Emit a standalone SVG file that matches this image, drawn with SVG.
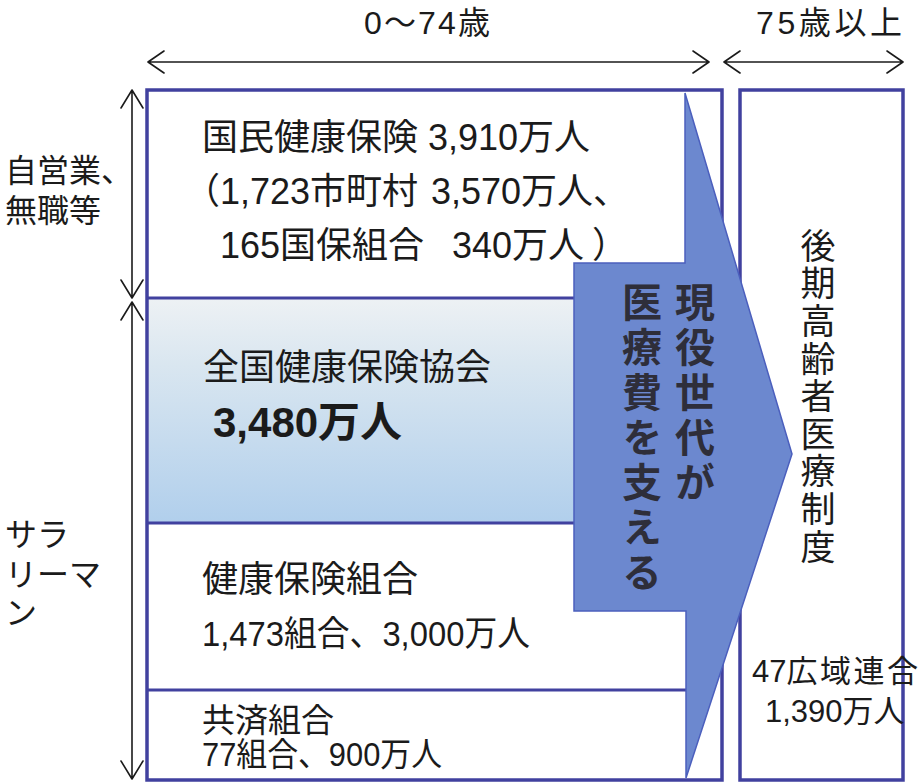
<svg xmlns="http://www.w3.org/2000/svg" width="919" height="784" viewBox="0 0 919 784">
<defs>
  <linearGradient id="kyokaiGrad" x1="0" y1="0" x2="0" y2="1">
    <stop offset="0" stop-color="#edf1f4"/>
    <stop offset="0.3" stop-color="#d9e6f0"/>
    <stop offset="1" stop-color="#b1cfec"/>
  </linearGradient>
</defs>
<style>
  .t { font-family: "Liberation Sans", "Noto Sans CJK JP", sans-serif; fill: #1b1b1b; }
  .box { fill: none; stroke: #41419f; stroke-width: 3.5; }
  .div { stroke: #41419f; stroke-width: 3; }
  .dim { fill: none; stroke: #1b1b1b; stroke-width: 1.6; stroke-linecap: round; stroke-linejoin: round; }
  .arrowtxt { font-family: "Noto Sans CJK JP", sans-serif; font-weight: 700; font-size: 40px; fill: #2e2e3a; writing-mode: vertical-rl; letter-spacing: 5px; }
  .vt { font-family: "Noto Sans CJK JP", sans-serif; font-size: 35px; fill: #1b1b1b; writing-mode: vertical-rl; letter-spacing: 2.6px; }
</style>
<rect x="0" y="0" width="919" height="784" fill="#ffffff"/>

<g id="age-labels">
  <text class="t" x="364" y="34" font-size="32" textLength="126" lengthAdjust="spacing">0～74歳</text>
  <text class="t" x="756" y="34" font-size="32" textLength="146" lengthAdjust="spacing">75歳以上</text>
</g>

<g id="group-labels">
  <text class="t" x="5" y="182" font-size="32">自営業、</text>
  <text class="t" x="5" y="222" font-size="32">無職等</text>
  <text class="t" x="5" y="546" font-size="32">サラ</text>
  <text class="t" x="5" y="586" font-size="32">リーマ</text>
  <text class="t" x="5" y="624" font-size="32">ン</text>
</g>

<g id="kyokai">
  <rect x="149" y="299" width="430" height="223" fill="url(#kyokaiGrad)"/>
  <text class="t" x="203" y="380" font-size="36">全国健康保険協会</text>
  <text class="t" x="213" y="437" font-size="42" font-weight="700">3,480万人</text>
</g>

<g id="dividers">
  <line class="div" x1="147" y1="298" x2="686" y2="298"/>
  <line class="div" x1="147" y1="523" x2="686" y2="523"/>
  <line class="div" x1="147" y1="690" x2="686" y2="690"/>
</g>

<g id="kokuho">
  <text class="t" x="202" y="150" font-size="36">国民健康保険<tspan x="428">3,910万人</tspan></text>
  <text class="t" x="184" y="204" font-size="36">（1,723市町村<tspan x="431">3,570万人、</tspan></text>
  <text class="t" x="220" y="258" font-size="36">165国保組合<tspan x="452">340万人</tspan><tspan x="592">）</tspan></text>
</g>

<g id="kenpo">
  <text class="t" x="202" y="592" font-size="36">健康保険組合</text>
  <text class="t" x="202" y="646" font-size="35" textLength="328" lengthAdjust="spacingAndGlyphs">1,473組合、3,000万人</text>
</g>

<g id="kyosai">
  <text class="t" x="202" y="732" font-size="33">共済組合</text>
  <text class="t" x="202" y="766" font-size="33" textLength="240" lengthAdjust="spacingAndGlyphs">77組合、900万人</text>
</g>

<g id="kouki">
  <rect class="box" x="740" y="90" width="163" height="690"/>
  <text class="vt" x="818" y="228">後期高齢者医療制度</text>
  <text class="t" x="752" y="682" font-size="31">47<tspan letter-spacing="2.5">広域連合</tspan></text>
  <text class="t" x="765" y="722" font-size="31">1,390万人</text>
</g>

<g id="age-0-74-box">
  <rect class="box" x="147" y="90" width="575" height="690"/>
</g>

<g id="support-arrow">
  <polygon points="574,263 685,263 685,93 792,454 686,778 686,611 574,611" fill="#6c88cf" stroke="#4b5fbd" stroke-width="1.5" stroke-linejoin="miter"/>
  <text class="arrowtxt" x="695" y="282">現役世代が</text>
  <text class="arrowtxt" x="642" y="282">医療費を支える</text>
</g>

<g id="connectors">
  <path class="dim" d="M148,62 H709 M164,51 L148,62 L164,73 M693,51 L709,62 L693,73"/>
  <path class="dim" d="M724,62 H903 M740,51 L724,62 L740,73 M887,51 L903,62 L887,73"/>
  <path class="dim" d="M132,90 V298 M121,108 L132,90 L143,108 M121,280 L132,298 L143,280"/>
  <path class="dim" d="M132,302 V779 M121,320 L132,302 L143,320 M121,761 L132,779 L143,761"/>
</g>
</svg>
